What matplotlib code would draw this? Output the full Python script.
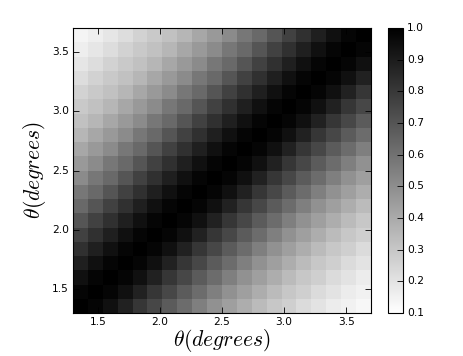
import numpy as np
import matplotlib
matplotlib.use("Agg")
import matplotlib.pyplot as plt

plt.style.use("classic")
plt.rcParams["mathtext.fontset"] = "cm"
plt.rcParams["font.family"] = ["DejaVu Sans"]

# axis range of the theta grid (degrees)
theta_min, theta_max = 1.3, 3.7

# correlation matrix, rows from bottom (low theta) to top (high theta)
row_00 = [1.00,0.98,0.94,0.88,0.81,0.75,0.68,0.62,0.55,0.49,0.44,0.39,0.34,0.30,0.27,0.23,0.20,0.17,0.15,0.13]
row_01 = [0.98,1.00,0.98,0.94,0.88,0.81,0.75,0.68,0.62,0.55,0.49,0.44,0.39,0.34,0.30,0.27,0.23,0.20,0.17,0.15]
row_02 = [0.94,0.98,1.00,0.98,0.94,0.88,0.81,0.75,0.68,0.62,0.55,0.49,0.44,0.39,0.34,0.30,0.27,0.23,0.20,0.17]
row_03 = [0.89,0.94,0.98,1.00,0.98,0.94,0.88,0.81,0.75,0.68,0.62,0.55,0.49,0.44,0.39,0.34,0.30,0.27,0.23,0.20]
row_04 = [0.83,0.89,0.94,0.98,1.00,0.98,0.94,0.88,0.81,0.75,0.68,0.62,0.55,0.49,0.44,0.39,0.34,0.30,0.27,0.23]
row_05 = [0.77,0.83,0.89,0.94,0.98,1.00,0.98,0.94,0.88,0.81,0.75,0.68,0.62,0.55,0.49,0.44,0.39,0.34,0.30,0.27]
row_06 = [0.70,0.77,0.83,0.89,0.94,0.98,1.00,0.98,0.94,0.88,0.81,0.75,0.68,0.62,0.55,0.49,0.44,0.39,0.34,0.30]
row_07 = [0.63,0.70,0.77,0.83,0.89,0.94,0.98,1.00,0.98,0.94,0.88,0.81,0.75,0.68,0.62,0.55,0.49,0.44,0.39,0.34]
row_08 = [0.58,0.63,0.70,0.77,0.83,0.89,0.94,0.98,1.00,0.98,0.94,0.88,0.81,0.75,0.68,0.62,0.55,0.49,0.44,0.39]
row_09 = [0.51,0.58,0.63,0.70,0.77,0.83,0.89,0.94,0.98,1.00,0.98,0.94,0.88,0.81,0.75,0.68,0.62,0.55,0.49,0.44]
row_10 = [0.46,0.51,0.58,0.63,0.70,0.77,0.83,0.89,0.94,0.98,1.00,0.98,0.94,0.88,0.81,0.75,0.68,0.62,0.55,0.49]
row_11 = [0.41,0.46,0.51,0.58,0.63,0.70,0.77,0.83,0.89,0.94,0.98,1.00,0.98,0.94,0.88,0.81,0.75,0.68,0.62,0.55]
row_12 = [0.36,0.41,0.46,0.51,0.58,0.63,0.70,0.77,0.83,0.89,0.94,0.98,1.00,0.98,0.94,0.88,0.81,0.75,0.68,0.62]
row_13 = [0.32,0.36,0.41,0.46,0.51,0.58,0.63,0.70,0.77,0.83,0.89,0.94,0.98,1.00,0.98,0.94,0.88,0.81,0.75,0.68]
row_14 = [0.29,0.32,0.36,0.41,0.46,0.51,0.58,0.63,0.70,0.77,0.83,0.89,0.94,0.98,1.00,0.98,0.94,0.88,0.81,0.75]
row_15 = [0.26,0.29,0.32,0.36,0.41,0.46,0.51,0.58,0.63,0.70,0.77,0.83,0.89,0.94,0.98,1.00,0.98,0.94,0.88,0.81]
row_16 = [0.22,0.26,0.29,0.32,0.36,0.41,0.46,0.51,0.58,0.63,0.70,0.77,0.83,0.89,0.94,0.98,1.00,0.98,0.94,0.88]
row_17 = [0.19,0.22,0.26,0.29,0.32,0.36,0.41,0.46,0.51,0.58,0.63,0.70,0.77,0.83,0.89,0.94,0.98,1.00,0.98,0.94]
row_18 = [0.16,0.19,0.22,0.26,0.29,0.32,0.36,0.41,0.46,0.51,0.58,0.63,0.70,0.77,0.83,0.89,0.94,0.98,1.00,0.98]
row_19 = [0.14,0.16,0.19,0.22,0.26,0.29,0.32,0.36,0.41,0.46,0.51,0.58,0.63,0.70,0.77,0.83,0.89,0.94,0.98,1.00]

rows = [row_00, row_01, row_02, row_03, row_04, row_05, row_06, row_07, row_08, row_09,
        row_10, row_11, row_12, row_13, row_14, row_15, row_16, row_17, row_18, row_19]
corr = np.array(rows)

tick_vals = [1.5, 2.0, 2.5, 3.0, 3.5]
cbar_ticks = [0.1, 0.2, 0.3, 0.4, 0.5, 0.6, 0.7, 0.8, 0.9, 1.0]

fig = plt.figure(figsize=(4.63, 3.56), dpi=100, facecolor="white")
ax = fig.add_axes([73/463, 1-313/356, 298/463, 285/356])
cax = fig.add_axes([388/463, 1-313/356, 15/463, 285/356])

im = ax.imshow(corr, origin="lower", cmap="gray_r", vmin=0.1, vmax=1.0,
               extent=[theta_min, theta_max, theta_min, theta_max],
               aspect="auto", interpolation="nearest")
ax.set_xlim(theta_min, theta_max)
ax.set_ylim(theta_min, theta_max)
ax.set_xticks(tick_vals)
ax.set_yticks(tick_vals)
ax.tick_params(axis="both", which="major", direction="in", length=4, width=0.6,
               labelsize=7.7, top=True, right=True, pad=3)
ax.tick_params(which="minor", length=0)
ax.set_xlabel(r"$\theta(degrees)$", fontsize=15.5, labelpad=0)
ax.set_ylabel(r"$\theta(degrees)$", fontsize=15.5, labelpad=3)
for s in ax.spines.values():
    s.set_linewidth(0.8)

cb = fig.colorbar(im, cax=cax, ticks=cbar_ticks)
cb.ax.tick_params(direction="in", length=4, width=0.6, labelsize=7.7, pad=3)
cb.ax.set_yticklabels([f"{t:.1f}" for t in cbar_ticks])
cb.outline.set_linewidth(0.8)

fig.savefig("out.png", dpi=100, facecolor="white")
